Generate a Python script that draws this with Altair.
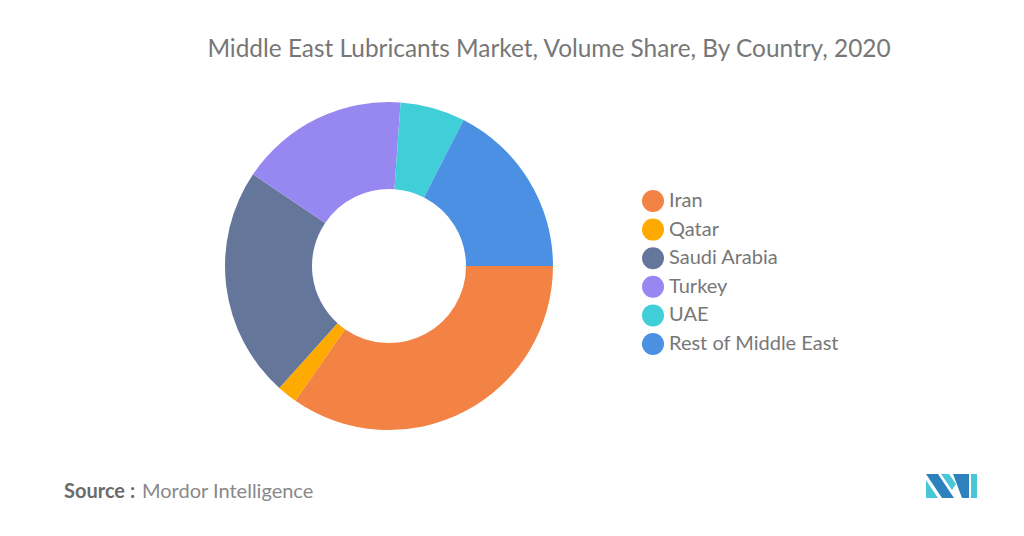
import math
import altair as alt
import pandas as pd

# ---- data ----
countries = ["Iran", "Qatar", "Saudi Arabia", "Turkey", "UAE", "Rest of Middle East"]
shares = [34.7, 2.0, 22.8, 16.7, 6.4, 17.5]
colors = ["#F28345", "#FFAA00", "#64779A", "#9787F0", "#40CFD9", "#4B90E2"]
title_text = ["Middle East Lubricants Market, Volume Share, By Country, 2020"]
source_bold = ["Source :"]
source_text = ["Mordor Intelligence"]

df = pd.DataFrame({"country": countries, "share": shares, "order": list(range(len(countries)))})

W, H = 1008, 520
CX, CY = 381, 258

donut = alt.Chart(df).mark_arc(innerRadius=77, outerRadius=164, strokeWidth=0).encode(
    theta=alt.Theta("share:Q", stack=True,
                    scale=alt.Scale(range=[math.pi / 2, math.pi / 2 + 2 * math.pi])),
    color=alt.Color(
        "country:N", sort=countries,
        scale=alt.Scale(domain=countries, range=colors),
        legend=alt.Legend(
            title=None, orient="none", legendX=634, legendY=182,
            symbolType="circle", symbolSize=484, symbolStrokeWidth=0,
            labelFontSize=20, labelFont="Lato", labelColor="#777777",
            labelLimit=400,
            rowPadding=6.6, labelOffset=5, padding=0,
        ),
    ),
    order=alt.Order("order:Q"),
    x=alt.value(CX),
    y=alt.value(CY),
)

title = alt.Chart(pd.DataFrame({"t": title_text})).mark_text(
    font="Lato", fontSize=24.4, color="#777777", align="center", baseline="alphabetic"
).encode(text="t:N", x=alt.value(541), y=alt.value(49))

src1 = alt.Chart(pd.DataFrame({"t": source_bold})).mark_text(
    font="Lato", fontSize=20, fontWeight="bold", color="#6b6b6b", align="left", baseline="alphabetic"
).encode(text="t:N", x=alt.value(56), y=alt.value(490))

src2 = alt.Chart(pd.DataFrame({"t": source_text})).mark_text(
    font="Lato", fontSize=20, color="#888888", align="left", baseline="alphabetic"
).encode(text="t:N", x=alt.value(134), y=alt.value(490))

# ---- logo (decorative) ----
R = 26.0
def path(polys):
    out = []
    for poly in polys:
        pts = [f"{x / R:.3f},{y / R:.3f}" for x, y in poly]
        out.append("M" + " L".join(pts) + " Z")
    return " ".join(out)

blue_polys = [
    [(-25.5, -12), (-13.5, -12), (2.5, 12), (-9.5, 12)],
    [(1.5, -12), (17.5, -12), (17.5, 12), (10.5, 12)],
]
teal_polys = [
    [(-25.5, -6), (-25.5, 12), (-13.5, 12)],
    [(-10.5, -12), (-2.5, -12), (4.5, -2), (0.5, 4)],
    [(19.5, -12), (25.5, -12), (25.5, 12), (19.5, 12)],
]
logo_df = pd.DataFrame({"k": [0]})
logo_blue = alt.Chart(logo_df).mark_point(
    shape=path(blue_polys), size=(2 * R) ** 2, filled=True, opacity=1, color="#2D82BE", strokeWidth=0
).encode(x=alt.value(943.5), y=alt.value(478))
logo_teal = alt.Chart(logo_df).mark_point(
    shape=path(teal_polys), size=(2 * R) ** 2, filled=True, opacity=1, color="#48C7D6", strokeWidth=0
).encode(x=alt.value(943.5), y=alt.value(478))

chart = alt.layer(donut, title, src1, src2, logo_blue, logo_teal).properties(
    width=W, height=H, autosize="none", padding=0, background="white"
).configure_view(stroke=None)

chart.save("out.html", embed_options={"renderer": "svg", "actions": False})
